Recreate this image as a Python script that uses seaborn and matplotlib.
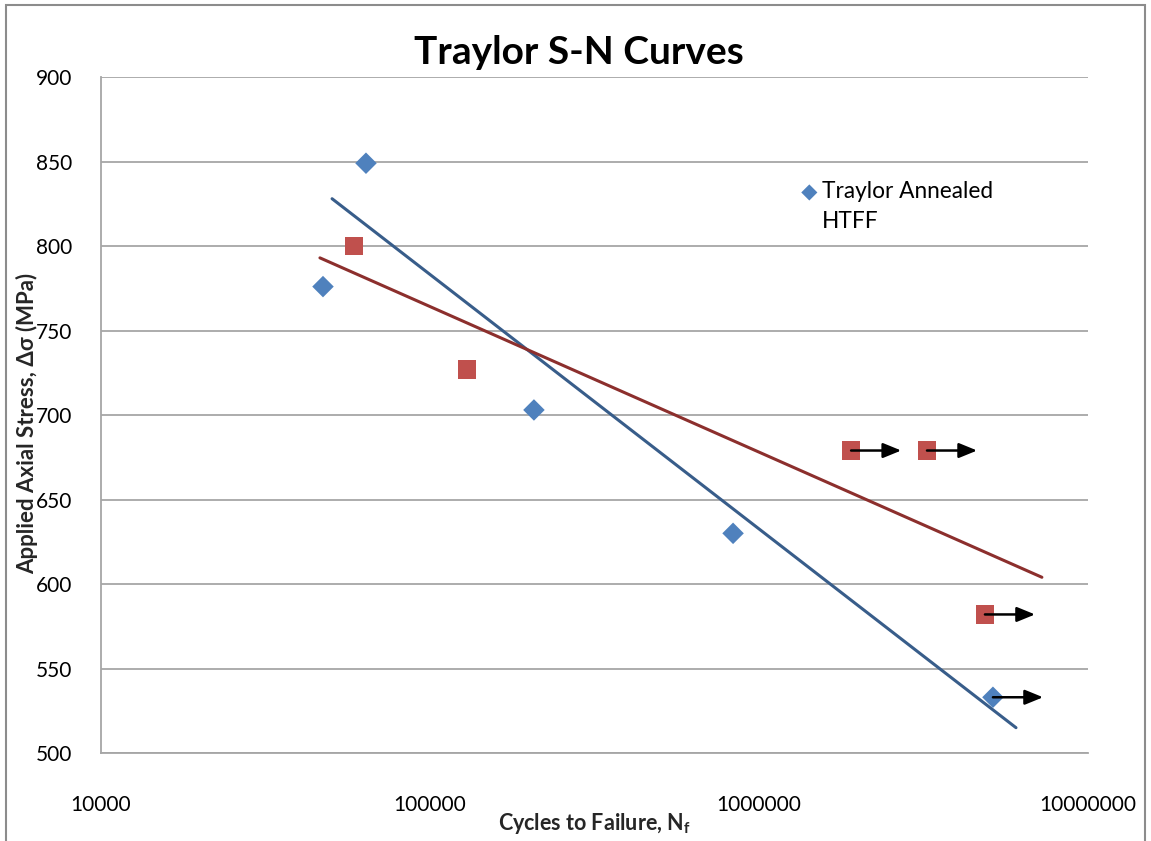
import numpy as np
import pandas as pd
import matplotlib
matplotlib.use("Agg")
import matplotlib.pyplot as plt
from matplotlib.patches import Rectangle
import seaborn as sns

# ----------------------
# Data
# ----------------------
# Traylor annealed HTFF (blue diamonds)
htff_cycles = [47300, 63900, 207000, 834000, 5140000]
htff_stress = [776, 849, 703, 630, 533]

# second series (red squares, not in legend)
red_cycles = [58700, 129500, 1905000, 3240000, 4860000]
red_stress = [800, 727, 679, 679, 582]

# runouts (points marked with an arrow)
runout_cycles = [5140000, 1905000, 3240000, 4860000]
runout_stress = [533, 679, 679, 582]
arrow_factor = 1.42

# trendline end points
blue_trend_x = [50400, 6040000]
blue_trend_y = [828, 515]
red_trend_x = [46300, 7240000]
red_trend_y = [793, 604]

x_ticks = [10000, 100000, 1000000, 10000000]
y_ticks = [500, 550, 600, 650, 700, 750, 800, 850, 900]

blue = "#4F81BD"
red = "#C0504D"
blue_line = "#385D8A"
red_line = "#8C2F2D"

sns.set_style("white")
plt.rcParams["font.family"] = ["Lato", "DejaVu Sans"]
plt.rcParams["mathtext.fontset"] = "custom"
plt.rcParams["mathtext.bf"] = "Lato:bold"
plt.rcParams["mathtext.rm"] = "Lato"
plt.rcParams["text.color"] = "black"

fig = plt.figure(figsize=(11.51, 8.41), dpi=100)
ax = fig.add_axes([0.0877, 0.1046, 0.8576, 0.8038])

# chart border
fig.patches.append(Rectangle((0.005, -0.01), 0.99, 1.004, transform=fig.transFigure,
                             fill=False, edgecolor="#8c8c8c", linewidth=1.5))

# trendlines
ax.plot(blue_trend_x, blue_trend_y, color=blue_line, linewidth=2.2, zorder=2)
ax.plot(red_trend_x, red_trend_y, color=red_line, linewidth=2.2, zorder=2)

htff = pd.DataFrame({"cycles": htff_cycles, "stress": htff_stress})
reds = pd.DataFrame({"cycles": red_cycles, "stress": red_stress})
sns.scatterplot(data=reds, x="cycles", y="stress", marker="s", s=175, color=red,
                edgecolor="none", ax=ax, zorder=3)
sns.scatterplot(data=htff, x="cycles", y="stress", marker="D", s=120, color=blue,
                edgecolor="none", ax=ax, zorder=3, label="Traylor Annealed")

# runout arrows
for cx, sy in zip(runout_cycles, runout_stress):
    ax.annotate("", xy=(cx * arrow_factor, sy), xytext=(cx, sy),
                arrowprops=dict(arrowstyle="-|>,head_length=1.1,head_width=0.45",
                                color="black", lw=1.8, shrinkA=0, shrinkB=0),
                zorder=4)

ax.set_xscale("log")
ax.set_xlim(10000, 10000000)
ax.set_ylim(500, 900)
ax.set_xticks(x_ticks)
ax.set_xticklabels([str(v) for v in x_ticks])
ax.minorticks_off()
ax.set_yticks(y_ticks)
ax.yaxis.grid(True, color="#a6a6a6", linewidth=1.3)
ax.xaxis.grid(False)
ax.tick_params(axis="x", length=0, pad=30, labelsize=15, labelcolor="black")
ax.tick_params(axis="y", length=0, pad=21, labelsize=15, labelcolor="black")
for side in ["top", "right"]:
    ax.spines[side].set_visible(False)
for side in ["left", "bottom"]:
    ax.spines[side].set_color("#a6a6a6")
    ax.spines[side].set_linewidth(1.3)

ax.set_xlabel(r"Cycles to Failure, N$_\mathbf{f}$", fontsize=15.5, fontweight="bold")
ax.xaxis.set_label_coords(0.5, -0.086)
ax.set_ylabel("Applied Axial Stress, Δσ (MPa)", fontsize=16, fontweight="bold")
ax.yaxis.set_label_coords(-0.064, 0.488)

fig.text(0.503, 0.938, "Traylor S-N Curves", ha="center", va="center",
         fontsize=28, fontweight="bold", color="black")

leg = ax.legend(loc="upper left", bbox_to_anchor=(0.697, 0.859), frameon=False, fontsize=16.3,
                handlelength=1.0, handletextpad=0.05, markerscale=0.75, borderaxespad=0)

# second line of the legend entry, under its first line
fig.canvas.draw()
tb = leg.get_texts()[0].get_window_extent()
fx, fy = fig.transFigure.inverted().transform((tb.x0, tb.y0 - 30))
fig.text(fx, fy, "HTFF", fontsize=16.3, ha="left", va="bottom")

fig.savefig("out.png", dpi=100)
